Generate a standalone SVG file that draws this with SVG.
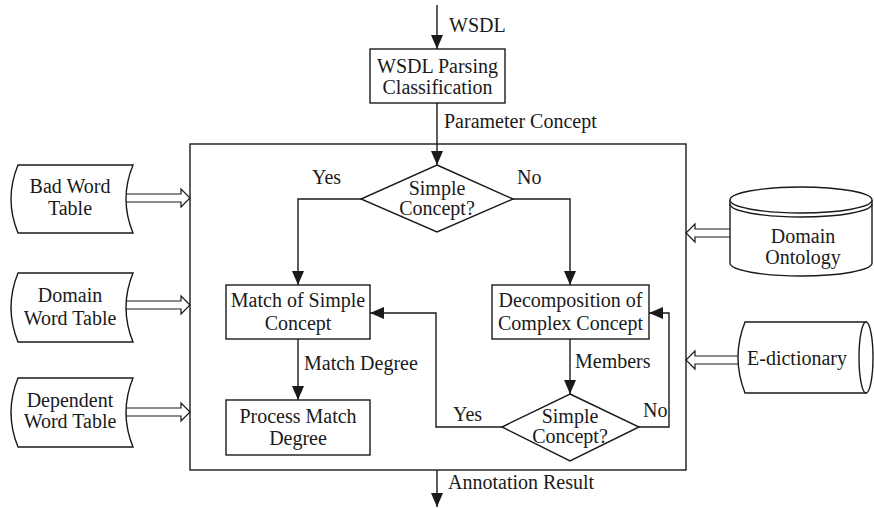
<svg xmlns="http://www.w3.org/2000/svg" width="874" height="508" viewBox="0 0 874 508">
<style>
text{font-family:"Liberation Serif","DejaVu Serif",serif;font-size:20px;fill:#1a1a1a}
.c{text-anchor:middle}
.s{fill:#fff;stroke:#1a1a1a;stroke-width:1.4}
.l{fill:none;stroke:#1a1a1a;stroke-width:1.4}
.h{fill:#fff;stroke:#1a1a1a;stroke-width:1.2}
</style>
<defs>
<marker id="a" markerUnits="userSpaceOnUse" markerWidth="14" markerHeight="12" refX="14" refY="6" orient="auto">
<path d="M0,0 L14,6 L0,12 z" fill="#1a1a1a"/>
</marker>
</defs>
<rect width="874" height="508" fill="#fff"/>
<g id="frame"><rect x="190" y="144" width="496" height="326" class="l" stroke-width="1.6"/></g>
<g id="connectors">
<path class="l" d="M437,5 V49" marker-end="url(#a)"/>
<path class="l" d="M437,103 V165" marker-end="url(#a)"/>
<path class="l" d="M361,199 H298 V285" marker-end="url(#a)"/>
<path class="l" d="M513,199 H570 V285" marker-end="url(#a)"/>
<path class="l" d="M298,339 V400" marker-end="url(#a)"/>
<path class="l" d="M570,339 V394" marker-end="url(#a)"/>
<path class="l" d="M502,427 H436 V313 H370" marker-end="url(#a)"/>
<path class="l" d="M639,427 H669 V313 H649" marker-end="url(#a)"/>
<path class="l" d="M437,470 V507" marker-end="url(#a)"/>
<path class="h" d="M126,194 H181 V189 L190,198 L181,207 V202 H126"/>
<path class="h" d="M126,301 H181 V296 L190,305 L181,314 V309 H126"/>
<path class="h" d="M126,408 H181 V403 L190,412 L181,421 V416 H126"/>
<path class="h" d="M730,229 H695 V224 L686,233 L695,242 V237 H730"/>
<path class="h" d="M738,356 H695 V351 L686,360 L695,369 V364 H738"/>
<text x="449" y="32">WSDL</text>
<text x="444" y="128">Parameter Concept</text>
<text x="312" y="184">Yes</text>
<text x="517" y="184">No</text>
<text x="304" y="370">Match Degree</text>
<text x="575" y="368">Members</text>
<text x="453" y="421">Yes</text>
<text x="643" y="417">No</text>
<text x="448" y="489">Annotation Result</text>
</g>
<g id="wsdl-parsing">
<rect x="370" y="49" width="135" height="54" class="s"/>
<text x="437.5" y="73" class="c">WSDL Parsing</text>
<text x="437.5" y="94" class="c">Classification</text>
</g>
<g id="simple-concept-1">
<polygon points="437,165 513,199 437,232 361,199" class="s"/>
<text x="437" y="195" class="c">Simple</text>
<text x="437" y="215" class="c">Concept?</text>
</g>
<g id="match-simple">
<rect x="226" y="285" width="144" height="54" class="s"/>
<text x="298" y="307" class="c">Match of Simple</text>
<text x="298" y="330" class="c">Concept</text>
</g>
<g id="decomposition">
<rect x="492" y="285" width="157" height="54" class="s"/>
<text x="570.5" y="307" class="c">Decomposition of</text>
<text x="570.5" y="330" class="c">Complex Concept</text>
</g>
<g id="process-match">
<rect x="226" y="400" width="144" height="55" class="s"/>
<text x="298" y="423" class="c">Process Match</text>
<text x="298" y="445" class="c">Degree</text>
</g>
<g id="simple-concept-2">
<polygon points="570,394 639,427 570,461 502,427" class="s"/>
<text x="570" y="423" class="c">Simple</text>
<text x="570" y="443" class="c">Concept?</text>
</g>
<g id="bad-word-table">
<path class="s" d="M18,165 H133 Q119,199 133,233 H18 Q4,199 18,165 Z"/>
<text x="70" y="193" class="c">Bad Word</text>
<text x="70" y="215" class="c">Table</text>
</g>
<g id="domain-word-table">
<path class="s" d="M18,273 H133 Q119,307.5 133,342 H18 Q4,307.5 18,273 Z"/>
<text x="70" y="302" class="c">Domain</text>
<text x="70" y="325" class="c">Word Table</text>
</g>
<g id="dependent-word-table">
<path class="s" d="M18,378 H133 Q119,412.5 133,447 H18 Q4,412.5 18,378 Z"/>
<text x="70" y="407" class="c">Dependent</text>
<text x="70" y="428" class="c">Word Table</text>
</g>
<g id="domain-ontology">
<path class="s" d="M730,200 V263 A71,13 0 0 0 872,263 V200"/>
<ellipse cx="801" cy="200" rx="71" ry="13" class="s"/>
<path class="l" d="M730,204 A71,13 0 0 0 872,204"/>
<text x="803" y="243" class="c">Domain</text>
<text x="803" y="264" class="c">Ontology</text>
</g>
<g id="e-dictionary">
<path class="s" d="M745,322 H866 V393 H745 Q731,357.5 745,322 Z"/>
<ellipse cx="866" cy="357.5" rx="7" ry="35.5" class="s"/>
<text x="797" y="365" class="c">E-dictionary</text>
</g>
</svg>
